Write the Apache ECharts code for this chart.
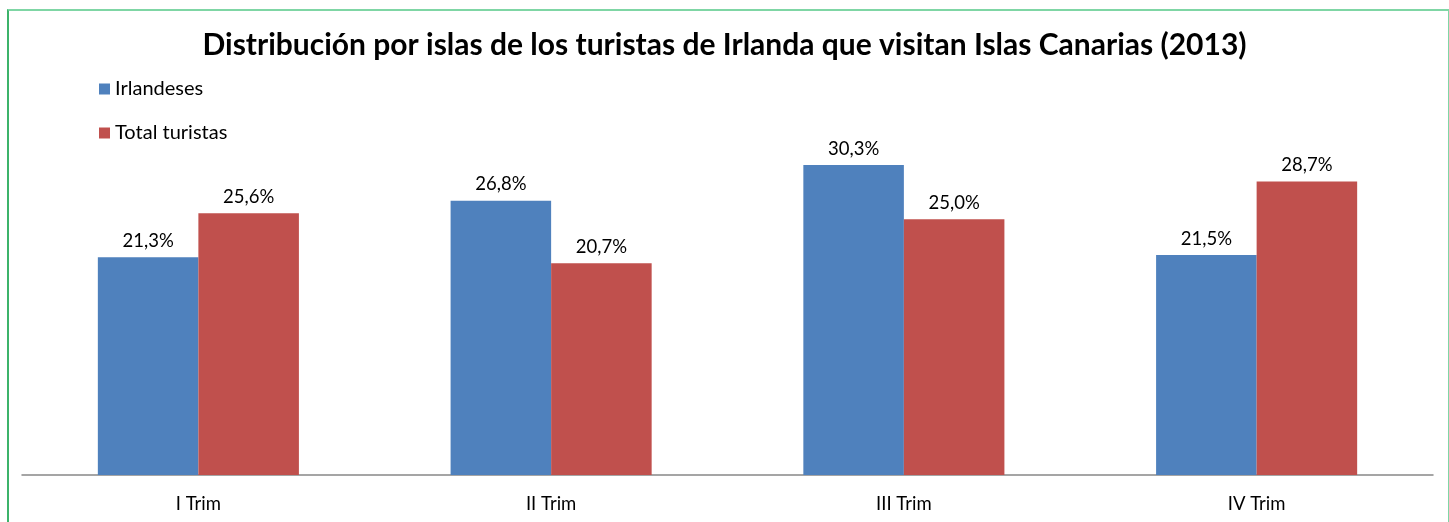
<!DOCTYPE html>
<html>
<head>
<meta charset="utf-8">
<script src="https://cdn.jsdelivr.net/npm/echarts@6/dist/echarts.min.js"></script>
<style>
  html, body { margin: 0; padding: 0; background: #fff; }
  #frame { position: absolute; left: 7px; top: 9px; width: 1439px; height: 520px;
           border-top: 2px solid #7fd6a5; border-left: 2px solid #3cb36a; border-right: 2px solid #7fd6a5; }
  #chart { width: 1449px; height: 522px; }
</style>
</head>
<body>
<div id="frame"></div>
<div id="chart"></div>
<script>
  const categories = ['I Trim', 'II Trim', 'III Trim', 'IV Trim'];
  const irlandeses = [21.3, 26.8, 30.3, 21.5];
  const totalTuristas = [25.6, 20.7, 25.0, 28.7];

  const fmt = p => p.value.toFixed(1).replace('.', ',') + '%';

  const myChart = echarts.init(document.getElementById('chart'));
  myChart.setOption({
    animation: false,
    textStyle: { fontFamily: 'Lato, "Noto Sans", sans-serif' },
    title: {
      text: 'Distribución por islas de los turistas de Irlanda que visitan Islas Canarias (2013)',
      left: 'center',
      top: 25,
      textStyle: { fontSize: 30, fontWeight: 'bold', color: '#000', fontFamily: 'Lato, "Noto Sans", sans-serif' }
    },
    legend: {
      orient: 'vertical',
      left: 94,
      top: 74,
      itemWidth: 11,
      itemHeight: 11,
      itemGap: 24,
      icon: 'rect',
      textStyle: { fontSize: 20, color: '#000' },
      data: ['Irlandeses', 'Total turistas']
    },
    grid: { left: 22, right: 16, top: 117, bottom: 47 },
    xAxis: {
      type: 'category',
      data: categories,
      axisLine: { lineStyle: { color: '#888', width: 1.5 } },
      axisTick: { show: false },
      axisLabel: { fontSize: 18.5, color: '#000', margin: 20 }
    },
    yAxis: {
      type: 'value',
      min: 0,
      max: 35,
      show: false
    },
    series: [
      {
        name: 'Irlandeses',
        type: 'bar',
        data: irlandeses,
        barGap: '0%',
        barCategoryGap: '43%',
        itemStyle: { color: '#4f81bd' },
        label: { show: true, position: 'top', distance: 7, fontSize: 18.5, color: '#000', formatter: fmt }
      },
      {
        name: 'Total turistas',
        type: 'bar',
        data: totalTuristas,
        barGap: '0%',
        barCategoryGap: '43%',
        itemStyle: { color: '#c0504d' },
        label: { show: true, position: 'top', distance: 7, fontSize: 18.5, color: '#000', formatter: fmt }
      }
    ]
  });
</script>
</body>
</html>
